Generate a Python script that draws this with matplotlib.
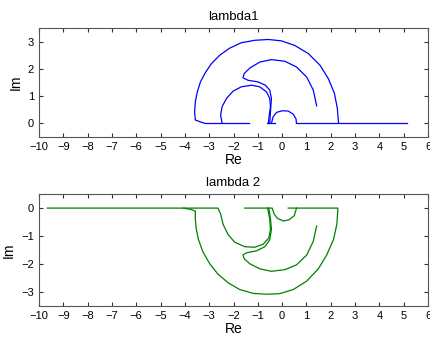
import numpy as np
import matplotlib.pyplot as plt

plt.rcParams['font.family'] = ['Liberation Sans', 'DejaVu Sans']

# lambda1 branches (Re, Im)
l1_outer_re = [-3.19, -3.33, -3.57, -3.60, -3.57, -3.49, -3.36, -3.16, -2.91, -2.57, -2.16, -1.68, -1.13, -0.57,
               -0.03, 0.52, 1.08, 1.56, 1.90, 2.15, 2.27, 2.32]
l1_outer_im = [0.00, 0.04, 0.12, 0.42, 0.79, 1.15, 1.52, 1.86, 2.19, 2.50, 2.76, 2.96, 3.05, 3.08,
               3.03, 2.86, 2.56, 2.13, 1.64, 1.10, 0.55, 0.00]
l1_mid_re = [-2.47, -2.53, -2.47, -2.29, -2.02, -1.68, -1.26, -0.92, -0.64, -0.51, -0.48, -0.53, -0.57]
l1_mid_im = [0.00, 0.30, 0.61, 0.91, 1.18, 1.34, 1.40, 1.34, 1.15, 0.91, 0.61, 0.30, 0.00]
l1_hook_re = [1.42, 1.28, 1.01, 0.59, 0.11, -0.44, -0.92, -1.33, -1.56, -1.61, -1.40, -0.99, -0.69, -0.51,
              -0.44, -0.47, -0.51]
l1_hook_im = [0.64, 1.22, 1.70, 2.07, 2.28, 2.34, 2.25, 2.03, 1.83, 1.67, 1.58, 1.52, 1.40, 1.22,
              0.91, 0.55, 0.00]
l1_small_re = [-0.44, -0.37, -0.23, 0.00, 0.25, 0.46, 0.57, 0.59]
l1_small_im = [0.00, 0.24, 0.40, 0.46, 0.45, 0.33, 0.16, 0.00]
l1_axis_re = [[-3.19, -1.35], [-0.62, -0.30], [0.59, 2.32, 2.65, 5.13]]

# lambda2 branches
l2_outer_re = [-9.66, -4.05, -3.75, -3.57, -3.57, -3.53, -3.44, -3.26, -2.98, -2.64, -2.22, -1.75, -1.19, -0.64,
               -0.10, 0.46, 1.01, 1.49, 1.83, 2.11, 2.25, 2.29, 2.29, 0.25]
l2_outer_im = [0.00, 0.00, -0.05, -0.11, -0.39, -0.76, -1.13, -1.56, -1.99, -2.36, -2.67, -2.91, -3.05, -3.08,
               -3.06, -2.91, -2.61, -2.17, -1.68, -1.13, -0.58, -0.06, 0.00, 0.00]
l2_mid_re = [-4.05, -2.64, -2.53, -2.43, -2.22, -1.95, -1.54, -1.13, -0.78, -0.55, -0.48, -0.51, -0.60]
l2_mid_im = [0.00, 0.00, -0.21, -0.58, -0.95, -1.22, -1.38, -1.40, -1.29, -1.07, -0.76, -0.39, 0.00]
l2_hook_re = [1.42, 1.28, 1.01, 0.59, 0.11, -0.44, -0.92, -1.33, -1.56, -1.61, -1.47, -1.06, -0.71, -0.51,
              -0.44, -0.48, -0.55]
l2_hook_im = [-0.64, -1.19, -1.68, -2.03, -2.20, -2.26, -2.17, -1.99, -1.81, -1.68, -1.60, -1.53, -1.38, -1.13,
              -0.76, -0.39, 0.00]
l2_small_re = [-1.54, -0.60, -0.41, -0.33, -0.19, 0.05, 0.28, 0.50, 0.59]
l2_small_im = [0.00, 0.00, 0.00, -0.21, -0.37, -0.46, -0.42, -0.27, 0.00]

xticks = np.arange(-10, 7, 1)

fig = plt.figure(figsize=(4.31, 3.38), dpi=100)
ax1 = fig.add_axes([0.0905, 0.595, 0.9026, 0.322])
ax2 = fig.add_axes([0.0905, 0.0947, 0.9026, 0.331])

c1 = '#0000ff'
for re, im in [(l1_outer_re, l1_outer_im), (l1_mid_re, l1_mid_im),
               (l1_hook_re, l1_hook_im), (l1_small_re, l1_small_im)]:
    ax1.plot(re, im, color=c1, lw=0.9)
for seg in l1_axis_re:
    ax1.plot(seg, np.zeros(len(seg)), color=c1, lw=0.9)

c2 = '#008000'
for re, im in [(l2_outer_re, l2_outer_im), (l2_mid_re, l2_mid_im),
               (l2_hook_re, l2_hook_im), (l2_small_re, l2_small_im)]:
    ax2.plot(re, im, color=c2, lw=0.9)

ax1.set_ylim(-0.5, 3.5)
ax1.set_yticks([0, 1, 2, 3])
ax1.set_title('lambda1', fontsize=9.5, pad=6)
ax2.set_ylim(-3.5, 0.5)
ax2.set_yticks([-3, -2, -1, 0])
ax2.set_title('lambda 2', fontsize=9.5, pad=6)

for ax in (ax1, ax2):
    ax.set_xlim(-10, 6)
    ax.set_xticks(xticks)
    ax.tick_params(direction='in', top=True, right=True, length=3, labelsize=8,
                   colors='#333333', labelcolor='black')
    for s in ax.spines.values():
        s.set_color('#555555')
        s.set_linewidth(0.8)
    ax.set_xlabel('Re', fontsize=10, labelpad=1)
    ax.set_ylabel('Im', fontsize=10, labelpad=4)

fig.savefig('out.png', dpi=100)
